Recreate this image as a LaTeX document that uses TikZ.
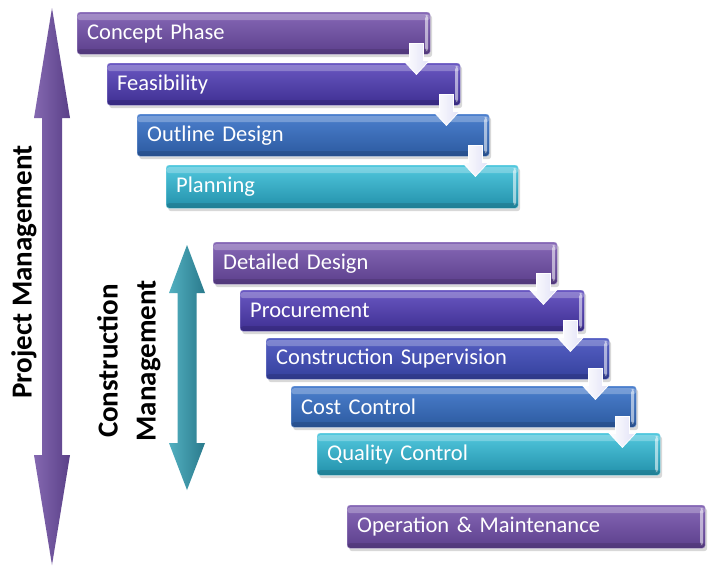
\documentclass[tikz,border=0pt]{standalone}
\usepackage{fontspec}
\setmainfont{Carlito}
\usetikzlibrary{calc,shadows}
\definecolor{purT}{HTML}{8668B6}
\definecolor{purB}{HTML}{5C3F8C}
\definecolor{indT}{HTML}{6A58C2}
\definecolor{indB}{HTML}{3E2F92}
\definecolor{csT}{HTML}{5660C4}
\definecolor{csB}{HTML}{34409C}
\definecolor{bluT}{HTML}{4C80CE}
\definecolor{bluB}{HTML}{2C5AA0}
\definecolor{cyaT}{HTML}{52C8DE}
\definecolor{cyaB}{HTML}{2290AA}
\definecolor{pmL}{HTML}{8468B0}
\definecolor{pmR}{HTML}{5A4088}
\definecolor{cmL}{HTML}{52B0C0}
\definecolor{cmR}{HTML}{2A7A8C}
\tikzset{
  barbox/.style={anchor=north west, text width=#1-20pt, inner xsep=10pt, inner ysep=0pt,
    align=left, rounded corners=3pt, font=\fontsize{22.5}{26}\selectfont, text=white,
    drop shadow={shadow xshift=2pt,shadow yshift=-3pt,opacity=0.3},
    path picture={
      \fill[white,opacity=0.25] ([yshift=-2pt]path picture bounding box.north west) rectangle ([yshift=-8pt]path picture bounding box.north east);
      \fill[white,opacity=0.55] ([xshift=-5pt,yshift=-3pt]path picture bounding box.north east) rectangle ([xshift=-2pt,yshift=3pt]path picture bounding box.south east);
      \fill[black,opacity=0.12] ([yshift=5pt]path picture bounding box.south west) rectangle (path picture bounding box.south east);
    }},
  pur/.style={top color=purT, bottom color=purB, draw=purT!70!white},
  ind/.style={top color=indT, bottom color=indB, draw=indT!70!white},
  cs/.style={top color=csT, bottom color=csB, draw=csT!70!white},
  blu/.style={top color=bluT, bottom color=bluB, draw=bluT!70!white},
  cya/.style={top color=cyaT, bottom color=cyaB, draw=cyaT!70!white},
  h42/.style={minimum height=42pt},
  h41/.style={minimum height=41pt},
  h43/.style={minimum height=43pt},
  blockarrow/.style={left color=white, right color=gray!45!blue!15!white, draw=white, line width=0.8pt, line join=miter},
  sidelabel/.style={rotate=90, font=\bfseries\fontsize{29}{38}\selectfont, align=center, text=black}
}
\begin{document}
\begin{tikzpicture}[x=1pt,y=-1pt]
\fill[white] (0,0) rectangle (720,571);
\useasboundingbox (0,0) rectangle (720,571);

% big side arrows
\coordinate (pmtop) at (52,8);
\coordinate (pmbot) at (52,565);
\shade[left color=pmL, right color=pmR]
  (pmtop) -- ++(18,110) -- ++(-8,0) -- ($(pmbot)+(10,-110)$) -- ++(8,0) -- (pmbot)
  -- ++(-18,-110) -- ++(8,0) -- ($(pmtop)+(-10,110)$) -- ++(-8,0) -- cycle;
\coordinate (cmtop) at (187,245);
\coordinate (cmbot) at (187,490);
\shade[left color=cmL, right color=cmR]
  (cmtop) -- ++(18,48) -- ++(-8.5,0) -- ($(cmbot)+(9.5,-47)$) -- ++(8.5,0) -- (cmbot)
  -- ++(-18,-47) -- ++(8.5,0) -- ($(cmtop)+(-9.5,48)$) -- ++(-8.5,0) -- cycle;

\node[sidelabel] (pm) at (24,272) {Project Management};
\node[sidelabel] (cm) at (129,361) {Construction\\Management};

% bars
\node[barbox=353pt, pur, h42] (b1) at (77,12) {Concept Phase};
\node[barbox=353pt, ind, h42] (b2) at (107,63) {Feasibility};
\node[barbox=352pt, blu, h42] (b3) at (137,114) {Outline Design};
\node[barbox=352pt, cya, h43] (b4) at (166,165) {Planning};

\node[barbox=344pt, pur, h42] (b5) at (213,242) {Detailed Design};
\node[barbox=344pt, ind, h41] (b6) at (240,290) {Procurement};
\node[barbox=343pt, cs, h41] (b7) at (266,338) {Construction Supervision};
\node[barbox=345pt, blu, h41] (b8) at (291,386) {Cost Control};
\node[barbox=343pt, cya, h42] (b9) at (317,433) {Quality Control};

\node[barbox=358pt, pur, h43] (b10) at (347,505) {Operation \& Maintenance};

% flow arrows
\foreach \s in {b1,b2,b3,b5,b6,b7,b8}{
  \coordinate (a-\s) at ($(\s.south east)+(-14,-11)$);
  \draw[blockarrow] (a-\s) ++(-7,0) -- ++(14,0) -- ++(0,17) -- ++(6,0) -- ++(-13,14) -- ++(-13,-14) -- ++(6,0) -- cycle;
}
\end{tikzpicture}
\end{document}
